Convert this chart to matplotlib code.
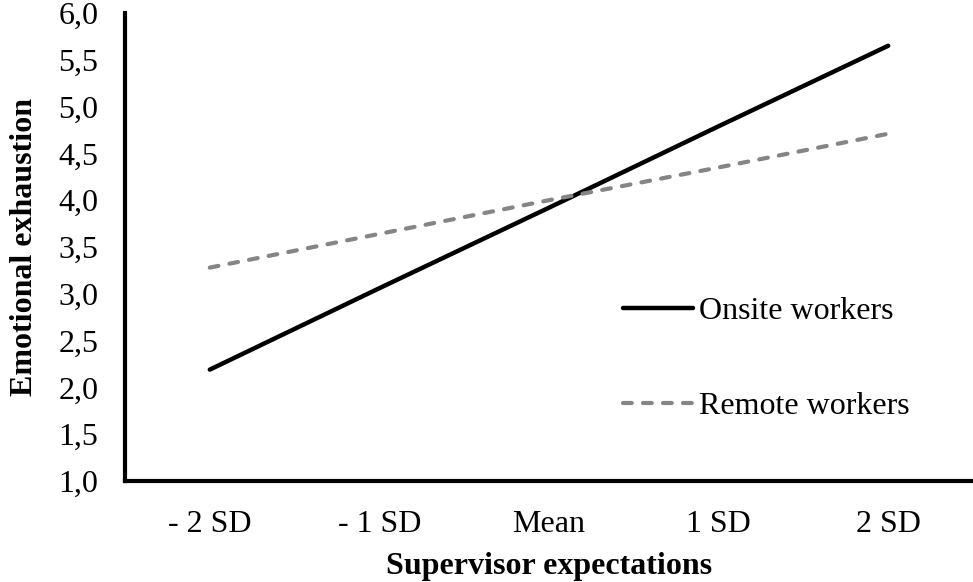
import numpy as np
import matplotlib.pyplot as plt

categories = ['- 2 SD', '- 1 SD', 'Mean', '1 SD', '2 SD']
onsite = [2.19, 3.06, 3.92, 4.79, 5.65]
remote = [3.28, 3.64, 4.00, 4.35, 4.71]

plt.rcParams['font.family'] = ['Liberation Serif', 'DejaVu Serif']
fs = 23

fig = plt.figure(figsize=(9.73, 5.82), dpi=100)
ax = fig.add_axes([125 / 973, 1 - 481 / 582, 848 / 973, 468 / 582])

x = np.arange(len(categories))
ax.plot(x, onsite, color='black', lw=3.2, solid_capstyle='round', label='Onsite workers')
ax.plot(x, remote, color='#858585', lw=3.0, dashes=(2.1, 2.7), dash_capstyle='round',
        label='Remote workers')

ax.set_xlim(-0.5, 4.5)
ax.set_ylim(1.0, 6.0)
ax.set_xticks(x)
ax.set_xticklabels(categories)
yt = np.arange(1.0, 6.01, 0.5)
ax.set_yticks(yt)
ax.set_yticklabels([f'{v:.1f}'.replace('.', ',') for v in yt])
ax.tick_params(length=0, labelsize=fs)
ax.tick_params(axis='y', pad=19)
ax.tick_params(axis='x', pad=21)

for s in ['top', 'right']:
    ax.spines[s].set_visible(False)
for s in ['left', 'bottom']:
    ax.spines[s].set_linewidth(3)

ax.set_xlabel('Supervisor expectations', fontsize=fs, fontweight='bold', labelpad=9)
ax.set_ylabel('Emotional exhaustion', fontsize=fs, fontweight='bold', labelpad=14)

ax.legend(loc='upper left', bbox_to_anchor=(0.568, 0.427), frameon=False, fontsize=fs,
          handlelength=2.2, handletextpad=0.2, labelspacing=2.05, borderpad=0)

fig.savefig('out.png', dpi=100)
